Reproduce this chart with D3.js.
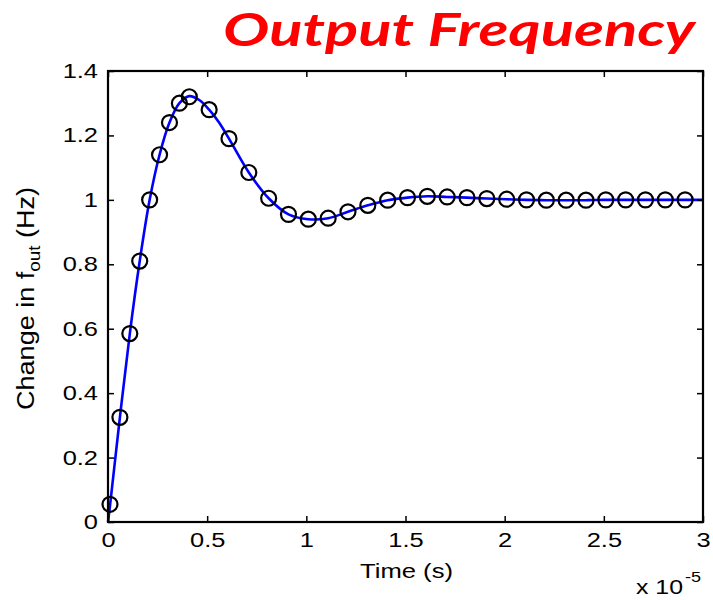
<!DOCTYPE html>
<html>
<head>
<meta charset="utf-8">
<script src="https://cdn.jsdelivr.net/npm/d3@7"></script>
<style>
  html, body { margin: 0; padding: 0; background: #fff; }
  svg { display: block; }
</style>
</head>
<body>
<script>
// ---- Data (time in units of 1e-5 s) ----
const markerTime = [0.01, 0.06, 0.11, 0.16, 0.21, 0.26, 0.31, 0.36, 0.41,
  0.51, 0.61, 0.71, 0.81, 0.91, 1.01, 1.11, 1.21, 1.31, 1.41, 1.51, 1.61, 1.71,
  1.81, 1.91, 2.01, 2.11, 2.21, 2.31, 2.41, 2.51, 2.61, 2.71, 2.81, 2.91];
const markerValue = [0.055, 0.325, 0.585, 0.81, 1.0, 1.14, 1.24, 1.30, 1.32,
  1.28, 1.19, 1.085, 1.005, 0.955, 0.94, 0.943, 0.963, 0.983, 0.999, 1.007, 1.011, 1.009,
  1.007, 1.004, 1.002, 1.0, 0.999, 0.999, 0.999, 1.0, 1.0, 1.0, 1.0, 1.0];

const lineTime = [0, 0.01, 0.06, 0.11, 0.16, 0.21, 0.26, 0.31, 0.36, 0.41, 0.46,
  0.51, 0.56, 0.61, 0.71, 0.81, 0.91, 1.01, 1.11, 1.21, 1.31, 1.41, 1.51, 1.61, 1.71,
  1.81, 1.91, 2.01, 2.11, 2.21, 2.31, 2.41, 2.51, 2.61, 2.71, 2.81, 2.91, 3.0];
const lineValue = [0, 0.05, 0.325, 0.585, 0.81, 1.0, 1.14, 1.24, 1.30, 1.322, 1.31,
  1.28, 1.24, 1.19, 1.085, 1.005, 0.955, 0.94, 0.943, 0.963, 0.983, 0.999, 1.007, 1.011, 1.009,
  1.007, 1.004, 1.002, 1.0, 0.999, 0.999, 0.999, 1.0, 1.0, 1.0, 1.0, 1.0, 1.0];

const xTicks = [0, 0.5, 1, 1.5, 2, 2.5, 3];
const xTickLabels = ["0", "0.5", "1", "1.5", "2", "2.5", "3"];
const yTicks = [0, 0.2, 0.4, 0.6, 0.8, 1, 1.2, 1.4];
const yTickLabels = ["0", "0.2", "0.4", "0.6", "0.8", "1", "1.2", "1.4"];

const titleText = "Output Frequency";
const xLabel = "Time (s)";

// ---- Layout ----
const W = 713, H = 600;
const pL = 108, pR = 703, pT = 71, pB = 522;
const font = "'Liberation Sans', Arial, Helvetica, sans-serif";
const wide = 1.24; // reference text is horizontally wider than Arial

const svg = d3.select("body").append("svg").attr("width", W).attr("height", H);

const x = d3.scaleLinear().domain([0, 3]).range([pL, pR]);
const y = d3.scaleLinear().domain([0, 1.4]).range([pB, pT]);

function stretch(sel, k) {
  sel.each(function () {
    const len = this.getComputedTextLength();
    if (len > 0) {
      d3.select(this).attr("textLength", len * k).attr("lengthAdjust", "spacingAndGlyphs");
    }
  });
}

// Title
svg.append("text")
  .attr("x", 223).attr("y", 46)
  .attr("font-family", "Lato, 'Open Sans', sans-serif")
  .attr("font-weight", "bold").attr("font-style", "italic")
  .attr("font-size", 46)
  .attr("fill", "#ff0000")
  .attr("textLength", 472).attr("lengthAdjust", "spacingAndGlyphs")
  .text(titleText);

// Data line
const line = d3.line()
  .x((d, i) => x(lineTime[i]))
  .y(d => y(d))
  .curve(d3.curveCatmullRom.alpha(0.5));

svg.append("path")
  .datum(lineValue)
  .attr("d", line)
  .attr("fill", "none")
  .attr("stroke", "#0000ff")
  .attr("stroke-width", 2.6);

// Markers
svg.append("g").selectAll("circle")
  .data(markerValue)
  .join("circle")
  .attr("cx", (d, i) => x(markerTime[i]))
  .attr("cy", d => y(d))
  .attr("r", 7.5)
  .attr("fill", "none")
  .attr("stroke", "#000")
  .attr("stroke-width", 2.2);

// Axes (MATLAB style: inward ticks on all four sides)
const tickLen = 6;
const axStyle = g => {
  g.select(".domain").remove();
  g.selectAll(".tick line").attr("stroke", "#000").attr("stroke-width", 1.5);
  g.selectAll(".tick text").attr("font-family", font).attr("font-size", 20.5).attr("fill", "#000");
};

const gx = svg.append("g").attr("transform", `translate(0,${pB})`)
  .call(d3.axisBottom(x).tickValues(xTicks).tickFormat((d, i) => xTickLabels[i])
    .tickSizeInner(-tickLen).tickSizeOuter(0).tickPadding(10))
  .call(axStyle);
stretch(gx.selectAll(".tick text"), wide);

svg.append("g").attr("transform", `translate(0,${pT})`)
  .call(d3.axisTop(x).tickValues(xTicks).tickFormat("")
    .tickSizeInner(-tickLen).tickSizeOuter(0))
  .call(axStyle);

const gy = svg.append("g").attr("transform", `translate(${pL},0)`)
  .call(d3.axisLeft(y).tickValues(yTicks).tickFormat((d, i) => yTickLabels[i])
    .tickSizeInner(-tickLen).tickSizeOuter(0).tickPadding(10))
  .call(axStyle);
stretch(gy.selectAll(".tick text"), wide);

svg.append("g").attr("transform", `translate(${pR},0)`)
  .call(d3.axisRight(y).tickValues(yTicks).tickFormat("")
    .tickSizeInner(-tickLen).tickSizeOuter(0))
  .call(axStyle);

// Frame
svg.append("rect")
  .attr("x", pL).attr("y", pT)
  .attr("width", pR - pL).attr("height", pB - pT)
  .attr("fill", "none").attr("stroke", "#000").attr("stroke-width", 2.2);

// X label
svg.append("text")
  .attr("x", (pL + pR) / 2 + 1).attr("y", 578)
  .attr("text-anchor", "middle")
  .attr("font-family", font).attr("font-size", 21).attr("fill", "#000")
  .attr("textLength", 93).attr("lengthAdjust", "spacingAndGlyphs")
  .text(xLabel);

// Exponent label
svg.append("text")
  .attr("x", 636).attr("y", 594)
  .attr("font-family", font).attr("font-size", 20.5).attr("fill", "#000")
  .attr("textLength", 47).attr("lengthAdjust", "spacingAndGlyphs")
  .text("x 10");
svg.append("text")
  .attr("x", 685).attr("y", 582)
  .attr("font-family", font).attr("font-size", 14).attr("fill", "#000")
  .attr("textLength", 16).attr("lengthAdjust", "spacingAndGlyphs")
  .text("-5");

// Y label
const yl = svg.append("text")
  .attr("transform", `translate(34,${(pT + pB) / 2 + 2}) rotate(-90)`)
  .attr("text-anchor", "middle")
  .attr("font-family", font).attr("font-size", 23).attr("fill", "#000");
yl.append("tspan").text("Change in f");
yl.append("tspan").attr("font-size", 16).attr("dy", 6).text("out");
yl.append("tspan").attr("dy", -6).text(" (Hz)");
stretch(yl, 223 / Math.max(1, yl.node().getComputedTextLength()));
</script>
</body>
</html>
